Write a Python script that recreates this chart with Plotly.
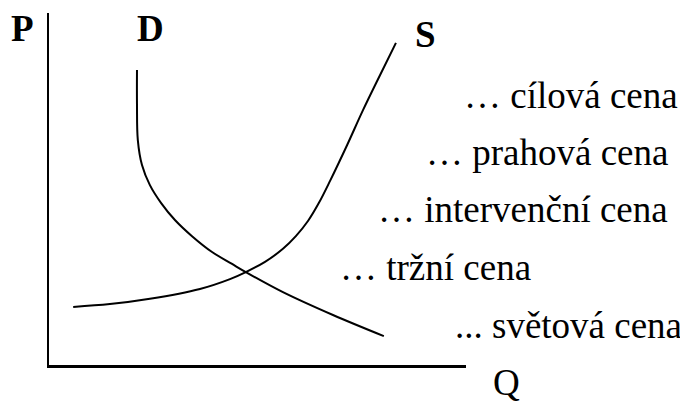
import plotly.graph_objects as go

# demand curve D (quantity, price)
d_q = [21.1, 21.1, 21.3, 22.3, 24.2, 26.9, 30.2, 34.3, 39.1, 43.9, 47.2, 56.1, 68.1, 80.3]
d_p = [83.8, 73.9, 63.9, 56.8, 51.1, 46.0, 41.2, 36.6, 32.1, 28.7, 26.4, 20.7, 14.2, 8.2]

# supply curve S (quantity, price)
s_q = [5.8, 14.6, 24.2, 36.2, 43.4, 47.2, 51.8, 56.1, 59.2, 62.1, 64.7, 67.4, 71.5, 75.3, 79.4, 83.2]
s_p = [16.5, 17.3, 18.8, 21.6, 24.4, 26.4, 29.3, 33.0, 36.6, 40.9, 46.0, 52.3, 62.5, 72.4, 82.4, 91.5]

# price levels on the right side
price_labels = ["… cílová cena", "… prahová cena", "… intervenční cena", "… tržní cena", "... světová cena"]
price_levels = [76.6, 60.4, 44.2, 27.7, 11.2]

font = "Liberation Serif, Times New Roman, serif"
txt_font = dict(family=font, size=37, color="black")

fig = go.Figure()
fig.add_trace(go.Scatter(x=d_q, y=d_p, mode="lines", line=dict(color="black", width=2, shape="spline"),
                         hoverinfo="skip", showlegend=False))
fig.add_trace(go.Scatter(x=s_q, y=s_p, mode="lines", line=dict(color="black", width=2, shape="spline"),
                         hoverinfo="skip", showlegend=False))

label_right = [1.513, 1.489, 1.489, 1.161, 1.523]
for txt, lvl, xr in zip(price_labels, price_levels, label_right):
    fig.add_annotation(x=xr, y=lvl / 100, xref="paper", yref="paper", text=txt, showarrow=False,
                       xanchor="right", yanchor="middle", font=txt_font)

# axis and curve names
names = [("<b>P</b>", -0.063, 0.955), ("<b>D</b>", 0.243, 0.955), ("<b>S</b>", 0.902, 0.940), ("Q", 1.096, -0.050)]
for txt, x, y in names:
    fig.add_annotation(x=x, y=y, xref="paper", yref="paper", text=txt, showarrow=False,
                       xanchor="center", yanchor="middle", font=txt_font)

fig.update_xaxes(range=[0, 100], showline=True, linecolor="black", linewidth=3, showgrid=False,
                 zeroline=False, showticklabels=False, ticks="")
fig.update_yaxes(range=[0, 100], showline=True, linecolor="black", linewidth=2, showgrid=False,
                 zeroline=False, showticklabels=False, ticks="")
# page body adds an 8px offset, so the figure is a bit smaller than the window
fig.update_layout(width=680, height=395, margin=dict(l=41, r=222, t=5, b=38),
                  plot_bgcolor="white", paper_bgcolor="white")

fig.write_html("out.html")
